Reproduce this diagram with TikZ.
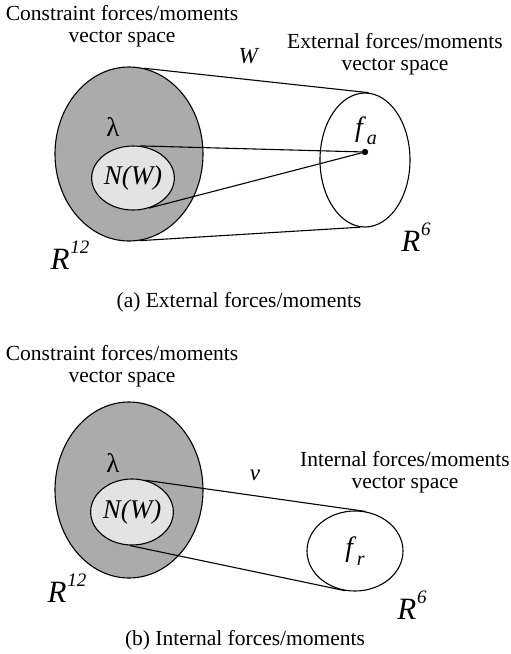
\documentclass[tikz,border=0pt]{standalone}
\usepackage{fontspec}
\setmainfont{Liberation Serif}
\usetikzlibrary{shapes.geometric,positioning}
\newcommand{\rsup}[2]{\textit{#1}\kern1pt\raisebox{0.5em}{\fontsize{19}{19}\selectfont\textit{#2}}}
\newcommand{\fsub}[1]{\textit{f}\kern0.5pt\raisebox{-0.3em}{\fontsize{20}{20}\selectfont\textit{#1}}}

\begin{document}
\begin{tikzpicture}[x=1pt,y=-1pt,every node/.style={font=\fontsize{21.5}{22}\selectfont}]
  \tikzset{
    vecspace/.style={ellipse,draw,line width=1.1pt,inner sep=0pt},
    link/.style={line width=1.1pt},
    symb/.style={font=\fontsize{27}{30}\selectfont},
  }
  \useasboundingbox (0,0) rectangle (511,654);
  % (a) external forces/moments
  \node[vecspace,fill=black!33,minimum width=148pt,minimum height=174pt] (bigA) at (129,154) {};
  \node[vecspace,fill=black!11,minimum width=82pt,minimum height=64pt,symb] (nwA) at (133,178) {\textit{N(W)}};
  \node[vecspace,fill=white,minimum width=90pt,minimum height=134pt] (extA) at (365,160) {};
  \fill (365,152) circle (3.2pt) coordinate (fa);
  \draw[link] (bigA.80) -- (extA.87);
  \draw[link] (bigA.277) -- (extA.266);
  \draw[link] (nwA.78) -- (fa);
  \draw[link] (nwA.298) -- (fa);
  \node[align=center] (consA) at (122,26) {Constraint forces/moments\\vector space};
  \node[align=center] (extlab) at (395,54) {External forces/moments\\vector space};
  \node[font=\fontsize{23}{23}\selectfont] (wA) at (249,56) {\textit{W}};
  \node[font=\fontsize{27}{27}\selectfont] (lamA) at (113,127) {λ};
  \node[font=\fontsize{28}{28}\selectfont] (faLab) at (366,131) {\fsub{a}};
  \node[font=\fontsize{31}{31}\selectfont] (r12A) at (70,255) {\rsup{R}{12}};
  \node[font=\fontsize{31}{31}\selectfont] (r6A) at (416,237) {\rsup{R}{6}};
  \node (capA) at (239,302) {(a) External forces/moments};
  % (b) internal forces/moments
  \node[vecspace,fill=black!33,minimum width=148pt,minimum height=176pt] (bigB) at (129,490) {};
  \node[vecspace,fill=black!11,minimum width=82pt,minimum height=66pt,symb] (nwB) at (132,512) {\textit{N(W)}};
  \node[vecspace,fill=white,minimum width=96pt,minimum height=80pt,font=\fontsize{28}{28}\selectfont] (intB) at (355,551) {\fsub{r}};
  \draw[link] (nwB.67) -- (intB.75);
  \draw[link] (nwB.266) -- (intB.256);
  \node[align=center] (consB) at (122,366) {Constraint forces/moments\\vector space};
  \node[align=center] (intlab) at (405,472) {Internal forces/moments\\vector space};
  \node[font=\fontsize{23}{23}\selectfont] (vB) at (255,475) {\textit{v}};
  \node[font=\fontsize{27}{27}\selectfont] (lamB) at (113,463) {λ};
  \node[font=\fontsize{31}{31}\selectfont] (r12B) at (67,588) {\rsup{R}{12}};
  \node[font=\fontsize{31}{31}\selectfont] (r6B) at (412,605) {\rsup{R}{6}};
  \node (capB) at (245,640) {(b) Internal forces/moments};
\end{tikzpicture}
\end{document}
